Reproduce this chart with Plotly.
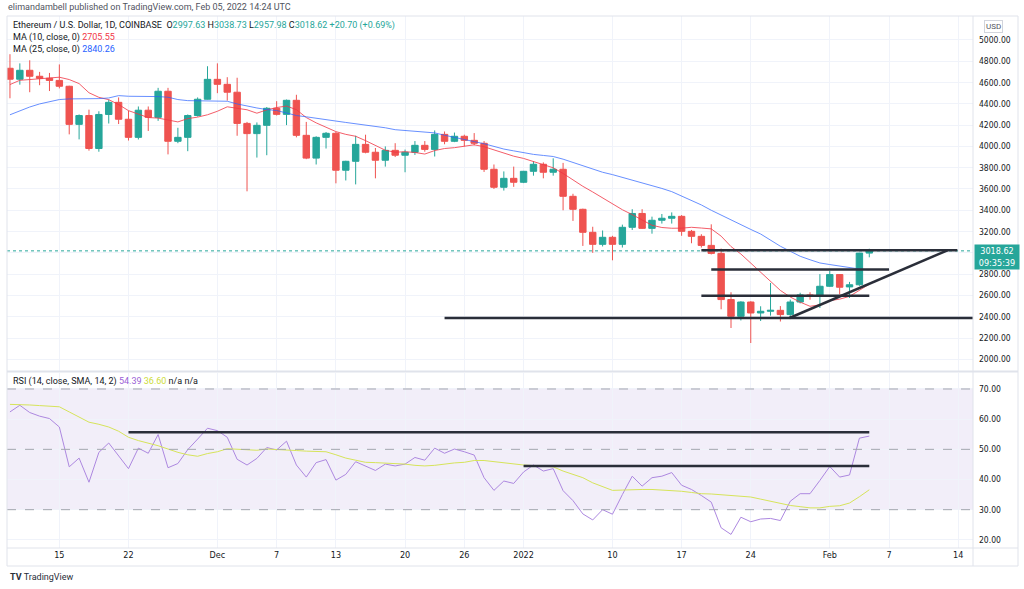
import pandas as pd
import plotly.graph_objects as go

# ---------------- data ----------------
dates = pd.date_range("2021-11-10", periods=88, freq="D")

opens = [4734, 4631, 4715, 4659, 4640, 4620, 4565, 4207, 4290, 3980,
         4300, 4414, 4255, 4085, 4340, 4273, 4518, 4048, 4085, 4290,
         4443, 4630, 4583, 4509, 4216, 4120, 4198, 4358, 4301, 4433,
         4104, 3890, 4085, 4123, 3776, 3860, 4019, 3945, 3870, 3963,
         3917, 3945, 4010, 3972, 4113, 4048, 4095, 4057, 4029, 3785,
         3616, 3700, 3663, 3766, 3832, 3757, 3785, 3531, 3409, 3193,
         3080, 3146, 3080, 3240, 3370, 3230, 3306, 3325, 3343, 3202,
         3155, 3070, 2995, 2561, 2404, 2538, 2435, 2451, 2460, 2420,
         2538, 2605, 2598, 2686, 2796, 2680, 2700, 2997.63]
highs = [4866, 4780, 4809, 4700, 4690, 4770, 4570, 4300, 4345, 4330,
         4440, 4460, 4335, 4375, 4375, 4550, 4550, 4175, 4300, 4460,
         4753, 4780, 4650, 4645, 4230, 4225, 4370, 4425, 4440, 4485,
         4230, 4095, 4135, 4135, 3865, 4100, 4110, 3985, 4000, 4030,
         3970, 4050, 4050, 4150, 4140, 4130, 4110, 4125, 4050, 3830,
         3765, 3810, 3770, 3860, 3850, 3888, 3845, 3555, 3415, 3245,
         3210, 3160, 3265, 3410, 3410, 3340, 3365, 3380, 3355, 3215,
         3175, 3268, 3040, 2630, 2545, 2545, 2498, 2717, 2500, 2560,
         2625, 2630, 2800, 2830, 2800, 2727, 3000, 3038.73]
lows = [4452, 4580, 4509, 4575, 4520, 4545, 4113, 4066, 3960, 3950,
        4215, 4210, 4055, 4065, 4145, 4240, 3925, 4030, 3955, 4280,
        4440, 4500, 4430, 4100, 3578, 3895, 3917, 4290, 4200, 4085,
        3880, 3830, 3980, 3653, 3680, 3643, 3935, 3700, 3810, 3900,
        3757, 3920, 3950, 3905, 4020, 4040, 4000, 4010, 3760, 3600,
        3585, 3620, 3655, 3725, 3700, 3725, 3400, 3300, 3065, 3000,
        3060, 2930, 3050, 3215, 3225, 3180, 3275, 3275, 3160, 3090,
        3050, 2985, 2470, 2294, 2365, 2153, 2360, 2410, 2355, 2380,
        2525, 2560, 2482, 2680, 2610, 2576, 2690, 2957.98]
closes = [4631, 4715, 4659, 4640, 4620, 4565, 4207, 4290, 3980, 4300,
          4414, 4255, 4085, 4340, 4273, 4518, 4048, 4085, 4290, 4443,
          4630, 4583, 4509, 4216, 4120, 4198, 4358, 4301, 4433, 4104,
          3890, 4085, 4123, 3776, 3860, 4019, 3945, 3870, 3963, 3917,
          3945, 4010, 3972, 4113, 4048, 4095, 4057, 4029, 3785, 3616,
          3700, 3663, 3766, 3832, 3757, 3785, 3531, 3409, 3193, 3080,
          3146, 3080, 3240, 3370, 3230, 3306, 3325, 3343, 3202, 3155,
          3070, 2995, 2561, 2404, 2538, 2435, 2451, 2460, 2420, 2538,
          2605, 2598, 2686, 2796, 2677, 2700, 2997.63, 3018.62]

ma10 = [4581, 4621, 4628, 4634, 4642, 4650, 4628, 4590, 4504, 4461,
        4439, 4393, 4336, 4306, 4271, 4266, 4250, 4230, 4261, 4275,
        4297, 4330, 4372, 4360, 4344, 4312, 4343, 4365, 4379, 4345,
        4271, 4221, 4183, 4139, 4113, 4095, 4054, 4011, 3964, 3945,
        3950, 3943, 3928, 3961, 3980, 3988, 3999, 4015, 3997, 3967,
        3943, 3908, 3887, 3859, 3830, 3799, 3746, 3684, 3625, 3572,
        3516, 3458, 3405, 3359, 3306, 3259, 3238, 3231, 3232, 3240,
        3233, 3225, 3157, 3059, 2989, 2902, 2814, 2725, 2647, 2585,
        2537, 2498, 2511, 2551, 2565, 2591, 2646, 2705.55]
ma25 = [4297, 4337, 4370, 4399, 4422, 4440, 4446, 4446, 4446, 4449,
        4455, 4477, 4471, 4471, 4465, 4468, 4462, 4440, 4430, 4430,
        4430, 4430, 4424, 4399, 4377, 4361, 4346, 4337, 4314, 4290,
        4278, 4267, 4252, 4238, 4225, 4212, 4203, 4192, 4175, 4157,
        4150, 4144, 4136, 4127, 4105, 4083, 4065, 4045, 4025, 4000,
        3975, 3958, 3940, 3925, 3915, 3905, 3880, 3850, 3815, 3788,
        3757, 3735, 3710, 3685, 3658, 3630, 3605, 3575, 3535, 3490,
        3450, 3400, 3353, 3310, 3265, 3220, 3177, 3120, 3062, 3015,
        2968, 2935, 2905, 2890, 2874, 2860, 2848, 2840.26]

rsi = [62.4, 64.6, 62.2, 61.0, 60.2, 57.4, 44.2, 47.1, 39.1, 49.0,
       52.1, 47.9, 43.6, 50.4, 48.7, 54.9, 43.9, 45.3, 49.9, 53.4,
       57.0, 56.2, 54.0, 46.7, 44.8, 47.0, 50.6, 49.8, 52.7, 44.8,
       40.8, 45.6, 46.6, 39.8, 41.7, 45.9, 44.5, 43.0, 45.1, 44.5,
       45.1, 47.3, 46.4, 50.4, 48.7, 50.1, 49.2, 48.1, 40.6, 36.4,
       39.5, 38.7, 42.5, 44.8, 42.8, 43.6, 36.3, 33.0, 28.6, 26.6,
       30.0, 28.5, 35.0, 41.1, 37.8, 40.6, 41.1, 42.3, 38.1, 36.7,
       34.7, 32.5, 24.0, 21.8, 27.5, 26.0, 26.9, 27.1, 26.4, 32.8,
       35.3, 35.3, 39.7, 44.3, 40.8, 41.5, 53.7, 54.39]
rsi_ma = [64.9, 64.9, 64.7, 64.5, 64.3, 64.1, 62.4, 60.7, 59.0, 58.3,
          57.4, 56.0, 54.0, 52.9, 52.1, 51.2, 50.1, 49.0, 48.2, 47.7,
          48.6, 49.2, 50.2, 50.0, 49.8, 49.7, 50.1, 50.0, 49.9, 49.6,
          49.4, 49.3, 49.2, 48.2, 47.1, 46.4, 45.7, 45.6, 45.5, 45.3,
          45.1, 44.7, 44.5, 44.7, 45.2, 45.5, 45.7, 46.3, 46.3, 45.9,
          45.6, 45.2, 44.8, 44.6, 44.4, 44.2, 42.8, 41.7, 40.6, 38.9,
          37.6, 36.4, 36.5, 36.7, 36.7, 36.7, 36.5, 36.4, 36.1, 35.7,
          35.3, 35.2, 34.9, 34.7, 34.5, 34.2, 33.5, 32.8, 31.9, 31.4,
          31.0, 30.6, 30.6, 31.1, 31.3, 32.2, 34.3, 36.60]

# user-drawn lines
price_levels = [3024, 2843, 2598, 2388]
price_level_start = ["2022-01-19", "2022-01-20", "2022-01-19", "2021-12-24"]
price_level_end = ["2022-02-13 22:00", "2022-02-07", "2022-02-05", "2022-02-25"]
trend_x = ["2022-01-27 22:00", "2022-02-12 22:00"]
trend_y = [2388, 3024]
rsi_levels = [55.7, 44.5]
rsi_level_start = ["2021-11-22", "2022-01-01"]
rsi_level_end = ["2022-02-05", "2022-02-05"]

tick_dates = ["2021-11-15", "2021-11-22", "2021-12-01", "2021-12-07", "2021-12-13",
              "2021-12-20", "2021-12-26", "2022-01-01", "2022-01-10", "2022-01-17",
              "2022-01-24", "2022-02-01", "2022-02-07", "2022-02-14"]
tick_text = ["15", "22", "Dec", "7", "13", "20", "26", "2022", "10", "17",
             "24", "Feb", "7", "14"]
price_ticks = list(range(2000, 5001, 200))
rsi_ticks = [20, 30, 40, 50, 60, 70]

last_price = 3018.62

# ---------------- layout helpers ----------------
W, H = 1024, 589
def px(x):
    return x / W
def py(y):
    return 1 - y / H

UP, DOWN = "#26a69a", "#ef5350"
GRID = "#f0f3fa"
BORDER = "#e0e3eb"
TXT = "#131722"
FONT = "Roboto, Liberation Sans, sans-serif"
AXFONT = "Liberation Sans Narrow, DejaVu Sans Condensed, Roboto, sans-serif"

fig = go.Figure()

fig.add_trace(go.Candlestick(
    x=dates, open=opens, high=highs, low=lows, close=closes,
    increasing=dict(line=dict(color=UP, width=1), fillcolor=UP),
    decreasing=dict(line=dict(color=DOWN, width=1), fillcolor=DOWN),
    whiskerwidth=0, showlegend=False, xaxis="x", yaxis="y"))

fig.add_trace(go.Scatter(x=dates, y=ma10, mode="lines",
                         line=dict(color="#f23645", width=1),
                         opacity=0.8, showlegend=False, xaxis="x", yaxis="y"))
fig.add_trace(go.Scatter(x=dates, y=ma25, mode="lines",
                         line=dict(color="#2962ff", width=1),
                         opacity=0.7, showlegend=False, xaxis="x", yaxis="y"))

fig.add_trace(go.Scatter(x=dates, y=rsi, mode="lines",
                         line=dict(color="#ad88e0", width=1),
                         showlegend=False, xaxis="x2", yaxis="y2"))
fig.add_trace(go.Scatter(x=dates, y=rsi_ma, mode="lines",
                         line=dict(color="#d6e45a", width=1),
                         showlegend=False, xaxis="x2", yaxis="y2"))

shapes = []
# RSI band and dashed levels
shapes.append(dict(type="rect", xref="x2 domain", yref="y2", x0=0, x1=1, y0=30, y1=70,
                   fillcolor="rgba(126,87,194,0.1)", line=dict(width=0), layer="below"))
for lv in [70, 50, 30]:
    shapes.append(dict(type="line", xref="x2 domain", yref="y2", x0=0, x1=1, y0=lv, y1=lv,
                       line=dict(color="#a3a6af", width=1, dash="dash")))
# last price dotted line
shapes.append(dict(type="line", xref="x domain", yref="y", x0=0, x1=1,
                   y0=last_price, y1=last_price,
                   line=dict(color=UP, width=1, dash="dot")))
# drawn price levels
LINE = "#2a2e39"
for lv, s, e in zip(price_levels, price_level_start, price_level_end):
    shapes.append(dict(type="line", xref="x", yref="y", x0=s, x1=e, y0=lv, y1=lv,
                       line=dict(color=LINE, width=2.5)))
shapes.append(dict(type="line", xref="x", yref="y", x0=trend_x[0], x1=trend_x[1],
                   y0=trend_y[0], y1=trend_y[1], line=dict(color=LINE, width=2.5)))
for lv, s, e in zip(rsi_levels, rsi_level_start, rsi_level_end):
    shapes.append(dict(type="line", xref="x2", yref="y2", x0=s, x1=e, y0=lv, y1=lv,
                       line=dict(color=LINE, width=2.5)))

# frame
def pline(x0, y0, x1, y1, w=1, c=BORDER):
    shapes.append(dict(type="line", xref="paper", yref="paper",
                       x0=px(x0), x1=px(x1), y0=py(y0), y1=py(y1),
                       line=dict(color=c, width=w)))
pline(7, 16, 1018, 16)
pline(7, 566, 1018, 566)
pline(7, 16, 7, 566)
pline(1018, 16, 1018, 566)
pline(973, 16, 973, 566)
pline(7, 371.5, 1018, 371.5, w=2)
pline(7, 548, 1018, 548)

annotations = []
def text(x, y, s, size=9, color=TXT, anchor="left", family=FONT):
    annotations.append(dict(xref="paper", yref="paper", x=px(x), y=py(y), text=s,
                            showarrow=False, xanchor=anchor, yanchor="middle",
                            font=dict(size=size, color=color, family=family)))

def col(s, c):
    return f'<span style="color:{c}">{s}</span>'

text(6, 7, "elimandambell published on TradingView.com, Feb 05, 2022 14:24 UTC",
     size=9, color="#50535e")
text(11, 26, "Ethereum / U.S. Dollar, 1D, COINBASE&nbsp;&nbsp;O" + col("2997.63", UP)
     + " H" + col("3038.73", UP) + " L" + col("2957.98", UP)
     + " C" + col("3018.62", UP) + " " + col("+20.70 (+0.69%)", UP),
     size=9)
text(11, 38, "MA (10, close, 0) " + col("2705.55", "#f23645"), size=9)
text(11, 49, "MA (25, close, 0) " + col("2840.26", "#2962ff"), size=9)
text(11, 381, "RSI (14, close, SMA, 14, 2) " + col("54.39", "#9b5fd6")
     + " " + col("36.60", "#cddc39") + " n/a n/a", size=9)
text(8, 577, "<b>TV</b>&nbsp;TradingView", size=9, color="#2a2e39")

annotations.append(dict(xref="paper", yref="paper", x=px(993), y=py(27), text="USD",
                        showarrow=False, xanchor="center", yanchor="middle",
                        font=dict(size=8, color="#50535e", family=FONT),
                        bordercolor="#d1d4dc", borderwidth=1, borderpad=1,
                        bgcolor="white"))
annotations.append(dict(xref="paper", yref="y", x=px(974), y=last_price,
                        text="3018.62<br>09:35:39", showarrow=False,
                        xanchor="left", yanchor="top", yshift=7,
                        font=dict(size=9, color="white", family=AXFONT),
                        bgcolor=UP, width=42, borderpad=1, align="center"))

xdomain = [px(7), px(973)]
xrange = ["2021-11-09 16:48", "2022-02-15 12:00"]

# the 3000.00 label sits under the last-price box in the reference
price_ticktext = ["" if v == 3000 else f"{v:.2f}" for v in price_ticks]

fig.update_layout(
    width=W, height=H, margin=dict(l=0, r=0, t=0, b=0),
    paper_bgcolor="white", plot_bgcolor="white",
    boxgap=0.35, boxgroupgap=0,
    shapes=shapes, annotations=annotations, showlegend=False,
    xaxis=dict(domain=xdomain, range=xrange, type="date", anchor="y",
               rangeslider=dict(visible=False), showticklabels=False,
               tickvals=tick_dates, showgrid=True, gridcolor=GRID, gridwidth=1,
               zeroline=False, showline=False),
    xaxis2=dict(domain=xdomain, range=xrange, type="date", anchor="y2", matches="x",
                tickvals=tick_dates, ticktext=tick_text, showgrid=True,
                gridcolor=GRID, gridwidth=1, zeroline=False, showline=False,
                ticks="", tickfont=dict(size=9, color=TXT, family=AXFONT)),
    yaxis=dict(domain=[py(371), py(16)], range=[1890, 5225], side="right",
               anchor="x", tickvals=price_ticks, ticktext=price_ticktext,
               showgrid=True, gridcolor=GRID, zeroline=False, ticks="",
               ticklabelstandoff=5,
               tickfont=dict(size=8.5, color=TXT, family=AXFONT)),
    yaxis2=dict(domain=[py(548), py(373)], range=[17.3, 75.3], side="right",
                anchor="x2", tickvals=rsi_ticks,
                ticktext=[f"{v:.2f}" for v in rsi_ticks],
                showgrid=True, gridcolor=GRID, zeroline=False, ticks="",
                ticklabelstandoff=5,
                tickfont=dict(size=8.5, color=TXT, family=AXFONT)),
)

fig.write_html("out.html", config={"displayModeBar": False},
               post_script="document.body.style.margin='0';document.body.style.overflow='hidden';")
